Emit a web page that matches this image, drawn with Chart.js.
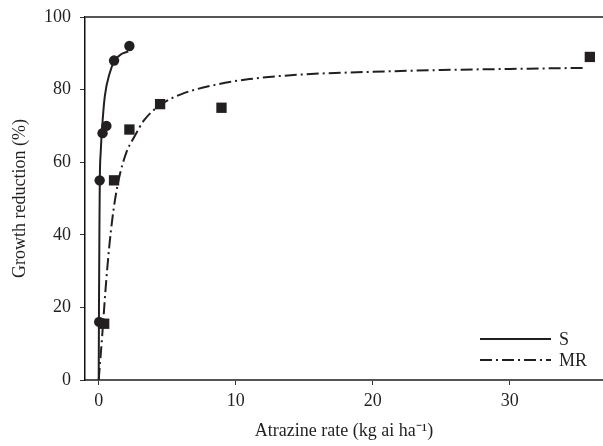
<!DOCTYPE html>
<html>
<head>
<meta charset="utf-8">
<script src="https://cdn.jsdelivr.net/npm/chart.js@4.4.1/dist/chart.umd.min.js"></script>
<style>
  html, body { margin: 0; padding: 0; background: #fff; overflow: hidden; }
  #wrap { width: 603px; height: 446px; }
</style>
</head>
<body>
<div id="wrap"><canvas id="growthChart"></canvas></div>
<script>
// observed growth reduction (%) vs atrazine rate (kg ai/ha)
const sRate = [0.035, 0.07, 0.28, 0.56, 1.12, 2.24];
const sReduction = [16, 55, 68, 70, 88, 92];
const mrRate = [0.4, 1.12, 2.24, 4.48, 8.96, 35.84];
const mrReduction = [15.5, 55, 69, 76, 75, 89];

// fitted curves
const sFitRate = [0, 0.02, 0.05, 0.08, 0.15, 0.24, 0.44, 0.8, 1.17, 1.66, 2.15];
const sFitReduction = [0, 20, 40, 55, 63, 69, 78, 84.5, 88, 89.8, 90.5];
const mrFitRate = [0, 0.25, 0.5, 0.75, 1.05, 1.45, 2, 2.6, 3.3, 4.5, 6, 8.6, 11, 15, 20, 25, 30, 35.6];
const mrFitReduction = [0, 12, 25, 36, 46, 55, 62.5, 67, 71.5, 75.8, 78.7, 81.4, 82.9, 84.2, 84.9, 85.4, 85.7, 86];

const xTicks = [0, 10, 20, 30];
const yTicks = [0, 20, 40, 60, 80, 100];
const seriesNames = ['S', 'MR'];

const FONT = 'Liberation Serif';
const INK = '#231f20';

function pts(xs, ys) {
  return xs.map((x, i) => ({x: x, y: ys[i]}));
}

// top frame line + legend
const extras = {
  id: 'extras',
  afterDraw(chart) {
    const {ctx, chartArea} = chart;
    ctx.save();
    ctx.strokeStyle = '#555';
    ctx.lineWidth = 2;
    ctx.beginPath();
    ctx.moveTo(chartArea.left, chartArea.top);
    ctx.lineTo(chart.width, chartArea.top);
    ctx.stroke();

    // legend, bottom right
    const x0 = chartArea.right - 123, x1 = chartArea.right - 52;
    const rows = [
      {y: chartArea.bottom - 41, dash: []},
      {y: chartArea.bottom - 20, dash: [12, 4, 2, 4]}
    ];
    ctx.strokeStyle = INK;
    ctx.fillStyle = INK;
    ctx.font = '18px "' + FONT + '"';
    ctx.textBaseline = 'middle';
    rows.forEach((r, i) => {
      ctx.lineWidth = 2;
      ctx.setLineDash(r.dash);
      ctx.beginPath();
      ctx.moveTo(x0, r.y);
      ctx.lineTo(x1, r.y);
      ctx.stroke();
      ctx.fillText(seriesNames[i], x1 + 8, r.y + 1);
    });
    ctx.restore();
  }
};

new Chart('growthChart', {
  type: 'scatter',
  data: {
    datasets: [
      {
        type: 'line', label: 'S fit',
        data: pts(sFitRate, sFitReduction),
        borderColor: INK, borderWidth: 2, pointRadius: 0,
        cubicInterpolationMode: 'monotone', fill: false
      },
      {
        type: 'line', label: 'MR fit',
        data: pts(mrFitRate, mrFitReduction),
        borderColor: INK, borderWidth: 2, borderDash: [12, 4, 2, 4], pointRadius: 0,
        cubicInterpolationMode: 'monotone', fill: false
      },
      {
        label: 'S',
        data: pts(sRate, sReduction),
        pointStyle: 'circle', pointRadius: 5.2,
        backgroundColor: INK, borderColor: INK, borderWidth: 0
      },
      {
        label: 'MR',
        data: pts(mrRate, mrReduction),
        pointStyle: 'rect', pointRadius: 7.3,
        backgroundColor: INK, borderColor: INK, borderWidth: 0
      }
    ]
  },
  options: {
    responsive: true,
    maintainAspectRatio: false,
    animation: false,
    layout: {autoPadding: false, padding: {top: 17, right: 0, left: 0, bottom: 0}},
    plugins: {legend: {display: false}, tooltip: {enabled: false}},
    scales: {
      x: {
        type: 'linear', min: -1, max: 36.8,
        afterBuildTicks: s => { s.ticks = xTicks.map(v => ({value: v})); },
        afterFit: s => { s.height = 66; s.paddingLeft = 0; s.paddingRight = 0; },
        border: {display: true, color: '#555', width: 2},
        grid: {display: true, drawOnChartArea: false, drawTicks: true, tickLength: 5, tickColor: '#333'},
        ticks: {color: INK, padding: 5, maxRotation: 0, font: {family: FONT, size: 18}},
        title: {display: true, text: 'Atrazine rate (kg ai ha⁻¹)', color: INK,
                font: {family: FONT, size: 18}, padding: {top: 4, bottom: 4}}
      },
      y: {
        type: 'linear', min: 0, max: 100,
        afterBuildTicks: s => { s.ticks = yTicks.map(v => ({value: v})); },
        afterFit: s => { s.width = 85; s.paddingTop = 0; s.paddingBottom = 0; },
        border: {display: true, color: '#111', width: 1.5},
        grid: {display: true, drawOnChartArea: false, drawTicks: true, tickLength: 5, tickColor: '#333'},
        ticks: {color: INK, padding: 9, font: {family: FONT, size: 18}},
        title: {display: true, text: 'Growth reduction (%)', color: INK,
                font: {family: FONT, size: 18}, padding: {top: 9, bottom: 0}}
      }
    }
  },
  plugins: [extras]
});
</script>
</body>
</html>
